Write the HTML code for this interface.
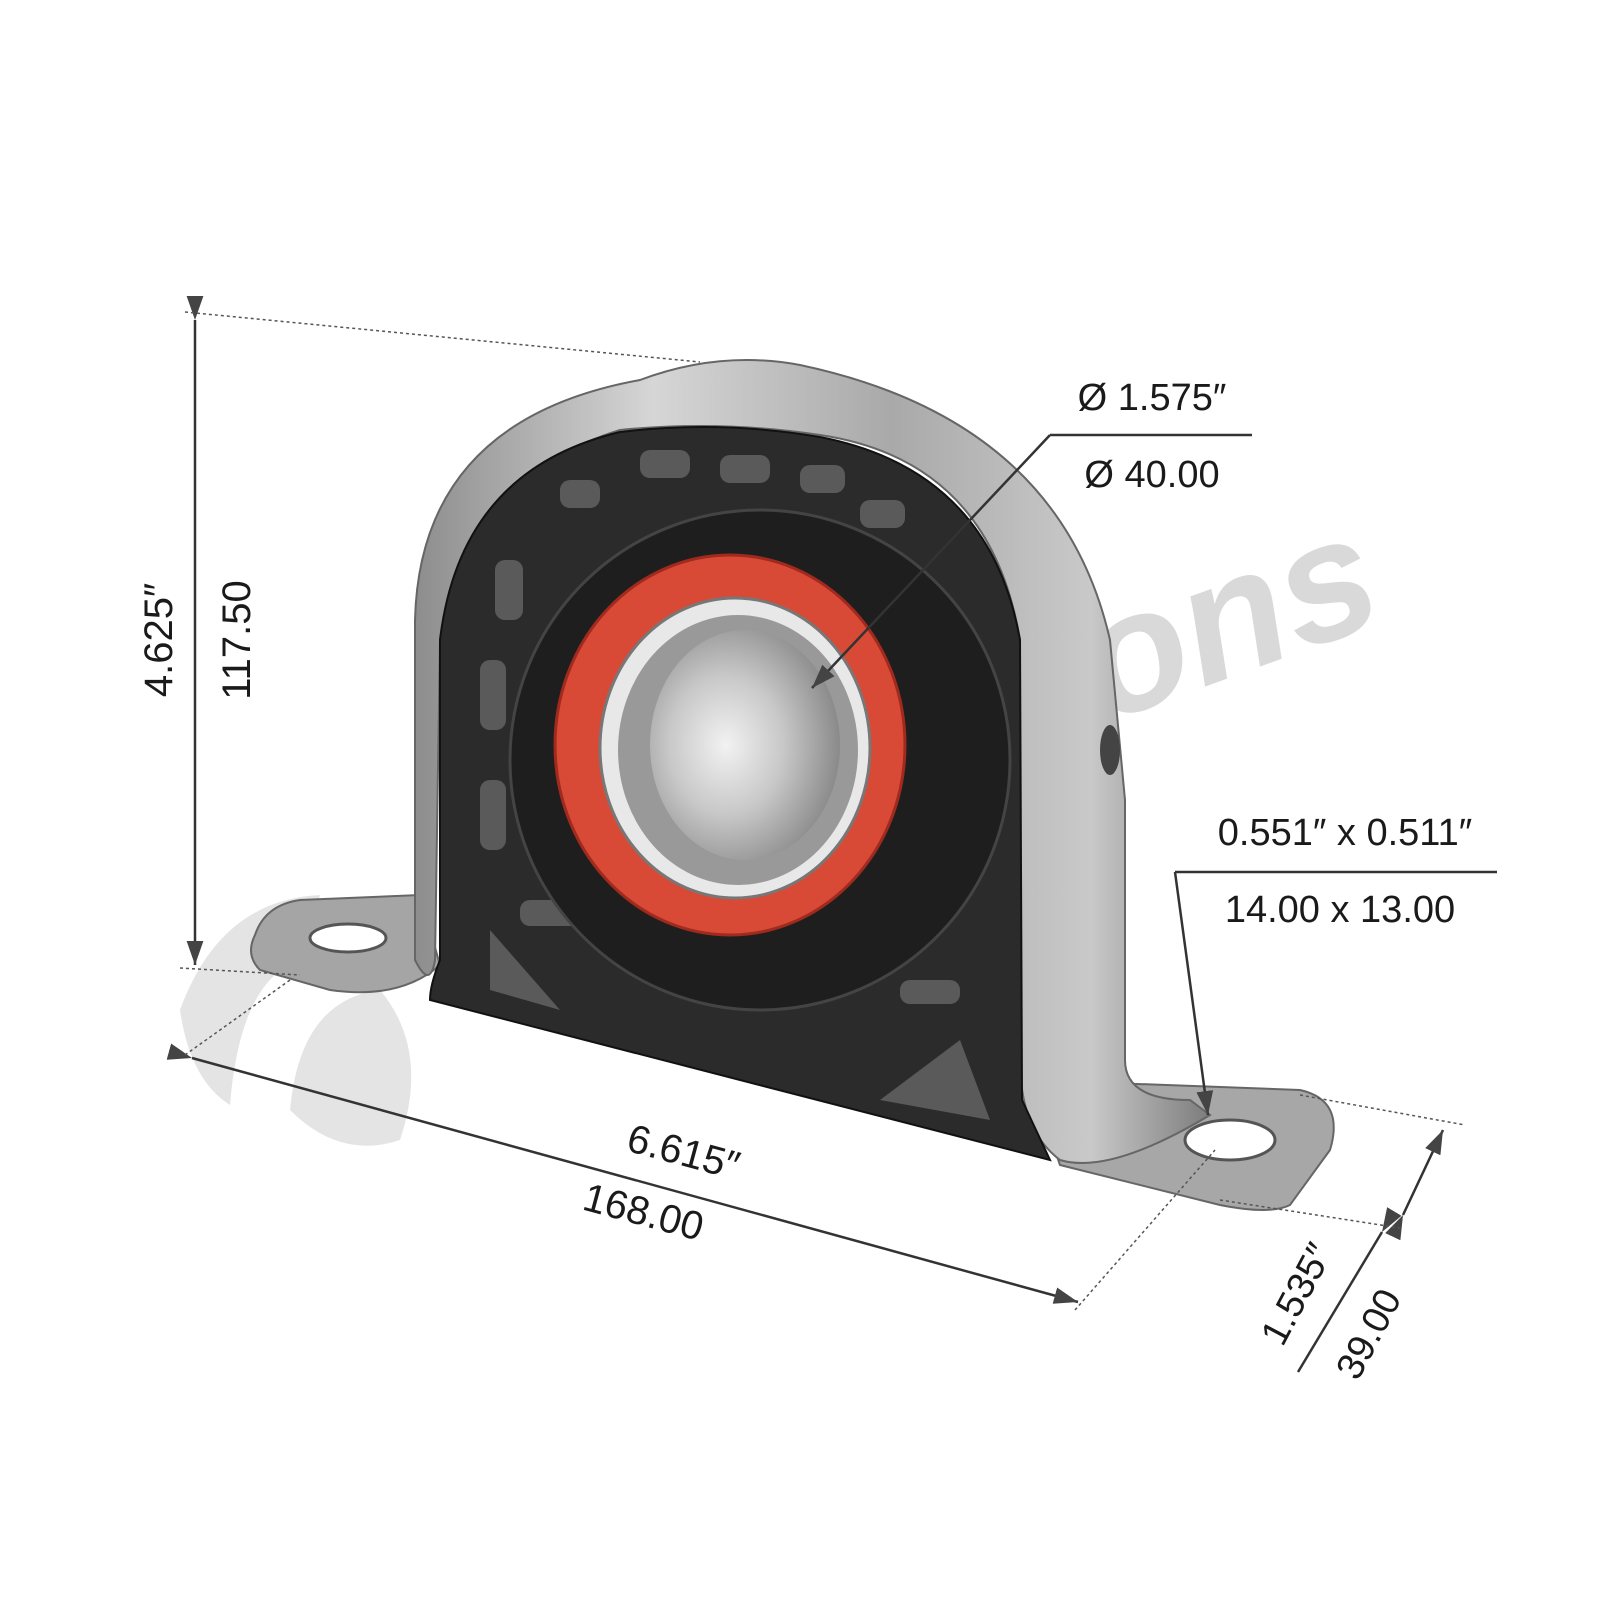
<!DOCTYPE html>
<html><head><meta charset="utf-8"><style>
html,body{margin:0;padding:0;background:#fff;}
svg{display:block;}
.t{font-family:"Liberation Sans",sans-serif;fill:#1a1a1a;}
</style></head><body>
<svg width="1600" height="1600" viewBox="0 0 1600 1600" xmlns="http://www.w3.org/2000/svg">
<defs>
<marker id="ah" markerWidth="24" markerHeight="24" refX="20" refY="7" orient="auto" markerUnits="userSpaceOnUse" viewBox="0 0 20 14"><path d="M0,0 L20,7 L0,14 z" fill="#444"/></marker>
<linearGradient id="steel" x1="0" y1="0" x2="1" y2="0">
<stop offset="0" stop-color="#8d8d8d"/><stop offset="0.3" stop-color="#d6d6d6"/><stop offset="0.6" stop-color="#a9a9a9"/><stop offset="0.85" stop-color="#c9c9c9"/><stop offset="1" stop-color="#7c7c7c"/></linearGradient>
<radialGradient id="bore" cx="0.4" cy="0.5" r="0.6"><stop offset="0" stop-color="#f2f2f2"/><stop offset="0.5" stop-color="#c8c8c8"/><stop offset="1" stop-color="#8a8a8a"/></radialGradient>
</defs>
<!-- watermark -->
<g fill="#e4e4e4">
<path d="M180,1010 Q220,900 320,895 L300,960 Q240,980 230,1105 Q190,1080 180,1010z"/>
<path d="M290,1110 Q300,1000 380,990 Q430,1050 400,1140 Q340,1160 290,1110z"/>
</g>
<text x="1020" y="690" style="font-family:'Liberation Sans',sans-serif;font-size:170px;font-weight:bold;font-style:italic;fill:#d9d9d9" transform="rotate(-20 1180 600)">ions</text>
<!-- right foot -->
<path d="M1030,1080 L1300,1090 Q1345,1100 1330,1150 L1290,1205 Q1270,1215 1220,1205 L1060,1165 Z" fill="#a7a7a7" stroke="#666" stroke-width="2"/>
<ellipse cx="1230" cy="1140" rx="45" ry="20" fill="#fff" stroke="#555" stroke-width="3"/>
<!-- left foot -->
<path d="M255,935 Q265,905 300,900 L420,895 L440,965 Q400,1000 330,990 L260,970 Q245,955 255,935Z" fill="#a5a5a5" stroke="#666" stroke-width="2"/>
<ellipse cx="348" cy="938" rx="38" ry="14" fill="#fff" stroke="#555" stroke-width="3"/>
<!-- bracket U -->
<path d="M415,960 L415,620 Q420,420 640,380 Q720,350 800,365 Q1060,420 1110,640 L1125,800 L1125,1060 Q1125,1100 1190,1100 L1210,1115 Q1110,1175 1060,1160 Q1020,1130 1020,1060 L1020,640 Q990,460 820,435 Q720,420 620,430 Q460,480 440,640 L435,960 Q430,990 415,960Z" fill="url(#steel)" stroke="#666" stroke-width="2"/>
<!-- black rubber body -->
<path d="M440,640 Q460,470 620,432 Q720,420 820,437 Q990,470 1020,640 L1022,1100 L1050,1160 L430,1000 Q430,985 440,960 Z" fill="#2b2b2b" stroke="#111" stroke-width="2"/>
<g fill="#5a5a5a">
<rect x="640" y="450" width="50" height="28" rx="10"/><rect x="720" y="455" width="50" height="28" rx="10"/>
<rect x="800" y="465" width="45" height="28" rx="10"/><rect x="860" y="500" width="45" height="28" rx="10"/>
<rect x="560" y="480" width="40" height="28" rx="10"/><rect x="495" y="560" width="28" height="60" rx="10"/>
<rect x="480" y="660" width="26" height="70" rx="10"/><rect x="480" y="780" width="26" height="70" rx="10"/>
<rect x="520" y="900" width="60" height="26" rx="10"/><rect x="900" y="980" width="60" height="24" rx="10"/>
<path d="M490,930 L560,1010 L490,990Z"/><path d="M880,1100 L960,1040 L990,1120Z"/>
</g>
<ellipse cx="760" cy="760" rx="250" ry="250" fill="#1e1e1e" stroke="#444" stroke-width="3"/>
<!-- bearing -->
<ellipse cx="730" cy="745" rx="175" ry="190" fill="#d84a36" stroke="#a02a1e" stroke-width="3"/>
<ellipse cx="735" cy="748" rx="135" ry="150" fill="#e8e8e8" stroke="#777" stroke-width="3"/>
<ellipse cx="738" cy="750" rx="120" ry="135" fill="#999"/>
<ellipse cx="745" cy="745" rx="95" ry="115" fill="url(#bore)"/>
<ellipse cx="1110" cy="750" rx="10" ry="25" fill="#444"/>
<!-- dimension lines -->
<g stroke="#333" stroke-width="2.5" fill="none">
<line x1="195" y1="320" x2="195" y2="965" marker-start="url(#ah)" marker-end="url(#ah)"/>
<line x1="192" y1="1058" x2="1078" y2="1302" marker-start="url(#ah)" marker-end="url(#ah)"/>
<line x1="1050" y1="435" x2="1252" y2="435"/>
<line x1="1050" y1="435" x2="812" y2="688" marker-end="url(#ah)"/>
<line x1="1175" y1="872" x2="1497" y2="872"/>
<line x1="1175" y1="872" x2="1208" y2="1115" marker-end="url(#ah)"/>
<line x1="1403" y1="1215" x2="1443" y2="1130" marker-start="url(#ah)" marker-end="url(#ah)"/>
<line x1="1382" y1="1232" x2="1298" y2="1372" marker-start="url(#ah)"/>
</g>
<g stroke="#555" stroke-width="1.5" stroke-dasharray="3,3" fill="none">
<line x1="185" y1="312" x2="700" y2="362"/>
<line x1="180" y1="968" x2="300" y2="975"/>
<line x1="185" y1="1055" x2="290" y2="980"/>
<line x1="1075" y1="1310" x2="1215" y2="1150"/>
<line x1="1300" y1="1095" x2="1465" y2="1125"/>
<line x1="1220" y1="1200" x2="1400" y2="1228"/>
</g>
<text class="t" x="1152" y="410" font-size="38" text-anchor="middle">Ø 1.575″</text>
<text class="t" x="1152" y="487" font-size="38" text-anchor="middle">Ø 40.00</text>
<text class="t" x="1345" y="845" font-size="38" text-anchor="middle">0.551″ x 0.511″</text>
<text class="t" x="1340" y="922" font-size="38" text-anchor="middle">14.00 x 13.00</text>
<text class="t" font-size="40" text-anchor="middle" transform="translate(172,640) rotate(-90)">4.625″</text>
<text class="t" font-size="40" text-anchor="middle" transform="translate(250,640) rotate(-90)">117.50</text>
<text class="t" font-size="40" text-anchor="middle" transform="translate(680,1165) rotate(15)">6.615″</text>
<text class="t" font-size="40" text-anchor="middle" transform="translate(640,1225) rotate(15)">168.00</text>
<text class="t" font-size="38" text-anchor="middle" transform="translate(1308,1300) rotate(-62)">1.535″</text>
<text class="t" font-size="38" text-anchor="middle" transform="translate(1380,1340) rotate(-62)">39.00</text>
</svg>
</body></html>
